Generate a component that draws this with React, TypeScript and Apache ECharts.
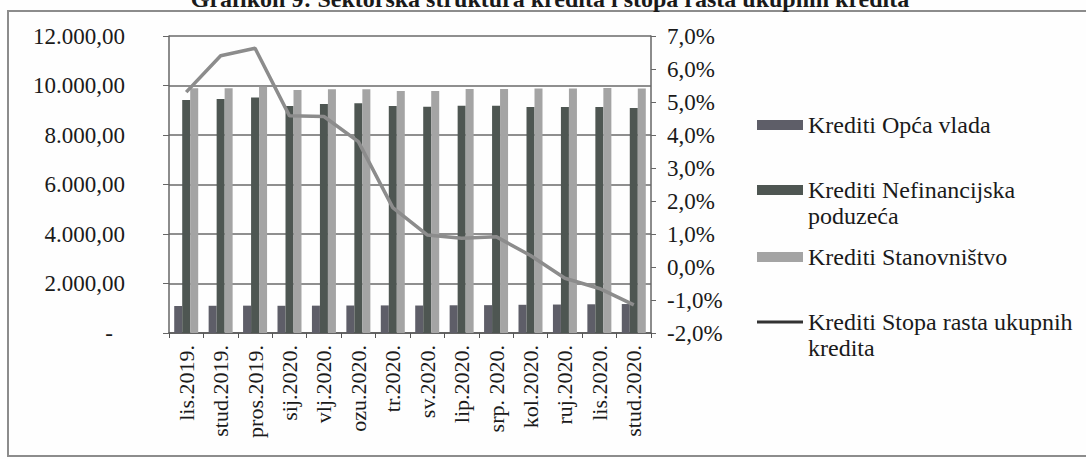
import React, { useEffect, useRef } from "react";
import * as echarts from "echarts";

const categories = [
  "lis.2019.", "stud.2019.", "pros.2019.", "sij.2020.", "vlj.2020.", "ozu.2020.", "tr.2020.",
  "sv.2020.", "lip.2020.", "srp. 2020.", "kol.2020.", "ruj.2020.", "lis.2020.", "stud.2020.",
];
const opcaVlada = [1090, 1100, 1105, 1100, 1105, 1110, 1115, 1110, 1120, 1125, 1140, 1150, 1160, 1170];
const nefinancijska = [9414, 9455, 9520, 9170, 9250, 9280, 9170, 9145, 9185, 9185, 9130, 9130, 9130, 9090];
const stanovnistvo = [9890, 9890, 9950, 9820, 9845, 9845, 9780, 9780, 9860, 9860, 9880, 9880, 9900, 9880];
const stopaRasta = [5.3, 6.4, 6.63, 4.58, 4.56, 3.8, 1.8, 0.97, 0.87, 0.92, 0.35, -0.34, -0.65, -1.15];

const seriesNames = [
  "Krediti Opća vlada",
  "Krediti Nefinancijska poduzeća",
  "Krediti Stanovništvo",
  "Krediti Stopa rasta ukupnih kredita",
];
const legendLines = [
  ["Krediti Opća vlada"],
  ["Krediti Nefinancijska", "poduzeća"],
  ["Krediti Stanovništvo"],
  ["Krediti Stopa rasta ukupnih", "kredita"],
];
const titleText = "Grafikon 9: Sektorska struktura kredita i stopa rasta ukupnih kredita";

const FONT = "Liberation Serif";
const colors = ["#5e5e68", "#4e5652", "#a4a4a4", "#8c8c8c"];

function fmtLeft(v: number) {
  if (v === 0) return "{d|-}";
  const s = Math.round(v).toString().replace(/\B(?=(\d{3})+(?!\d))/g, ".");
  return s + ",00";
}
function fmtRight(v: number) {
  return v.toFixed(1).replace(".", ",") + "%";
}

export default function App() {
  const ref = useRef<HTMLDivElement>(null);
  useEffect(() => {
    if (!ref.current) return;
    const chart = echarts.init(ref.current, null, { renderer: "svg" });

    const legendRowsY = [125, 190, 257, 322];
    const legendGraphics: any[] = [];
    legendRowsY.forEach((y, i) => {
      if (i < 3) {
        legendGraphics.push({
          type: "rect",
          shape: { x: 757, y: y - 5, width: 46, height: 10 },
          style: { fill: colors[i] },
        });
      } else {
        legendGraphics.push({
          type: "line",
          shape: { x1: 757, y1: y, x2: 803, y2: y },
          style: { stroke: "#333", lineWidth: 3 },
        });
      }
      legendLines[i].forEach((t, j) => {
        legendGraphics.push({
          type: "text",
          x: 808,
          y: y + j * 26,
          style: {
            text: t,
            fontSize: 24,
            fontFamily: FONT,
            fill: "#1a1a1a",
            align: "left",
            verticalAlign: "middle",
          },
        });
      });
    });

    chart.setOption({
      animation: false,
      backgroundColor: "#fefefe",
      textStyle: { fontFamily: FONT },
      graphic: [
        {
          type: "rect",
          shape: { x: 8, y: 11, width: 1090, height: 445 },
          style: { fill: "none", stroke: "#8c8c8c", lineWidth: 2 },
          silent: true,
        },
        {
          type: "text",
          x: 550,
          y: -1,
          style: {
            text: titleText,
            fontSize: 24,
            fontWeight: "bold",
            fontFamily: FONT,
            fill: "#1a1a1a",
            align: "center",
            verticalAlign: "middle",
          },
        },
        ...legendGraphics,
      ],
      grid: { left: 169, right: 435, top: 36, bottom: 126, containLabel: false },
      xAxis: {
        type: "category",
        data: categories,
        boundaryGap: true,
        axisLine: { lineStyle: { color: "#555", width: 1.5 } },
        axisTick: { show: true, length: 5, lineStyle: { color: "#555" } },
        axisLabel: {
          rotate: 90,
          interval: 0,
          fontSize: 22,
          margin: 12,
          color: "#1a1a1a",
          fontFamily: FONT,
        },
      },
      yAxis: [
        {
          type: "value",
          min: 0,
          max: 12000,
          interval: 2000,
          axisLine: { show: true, lineStyle: { color: "#666", width: 1.5 } },
          axisTick: { show: true, length: 6, lineStyle: { color: "#666" } },
          splitLine: { show: true, lineStyle: { color: "#6a6a6a", width: 1.5 } },
          axisLabel: {
            formatter: fmtLeft,
            fontSize: 23,
            margin: 44,
            color: "#1a1a1a",
            fontFamily: FONT,
            rich: { d: { fontSize: 23, padding: [0, 12, 0, 0], fontFamily: FONT, color: "#1a1a1a" } },
          },
        },
        {
          type: "value",
          min: -2,
          max: 7,
          interval: 1,
          position: "right",
          axisLine: { show: true, lineStyle: { color: "#666", width: 1.5 } },
          axisTick: { show: true, length: 5, lineStyle: { color: "#666" } },
          splitLine: { show: false },
          axisLabel: {
            formatter: fmtRight,
            fontSize: 23,
            margin: 16,
            color: "#1a1a1a",
            fontFamily: FONT,
          },
        },
      ],
      series: [
        {
          name: seriesNames[0],
          type: "bar",
          data: opcaVlada,
          barWidth: 8,
          barGap: "0%",
          itemStyle: { color: colors[0] },
        },
        {
          name: seriesNames[1],
          type: "bar",
          data: nefinancijska,
          barWidth: 8,
          barGap: "0%",
          itemStyle: { color: colors[1] },
        },
        {
          name: seriesNames[2],
          type: "bar",
          data: stanovnistvo,
          barWidth: 8,
          barGap: "0%",
          itemStyle: { color: colors[2] },
        },
        {
          name: seriesNames[3],
          type: "line",
          yAxisIndex: 1,
          data: stopaRasta,
          symbol: "none",
          lineStyle: { color: colors[3], width: 3.5 },
          z: 5,
        },
      ],
    });
    return () => chart.dispose();
  }, []);
  return (
    <div
      ref={ref}
      style={{ position: "fixed", left: 0, top: 0, width: 1086, height: 459 }}
    />
  );
}
